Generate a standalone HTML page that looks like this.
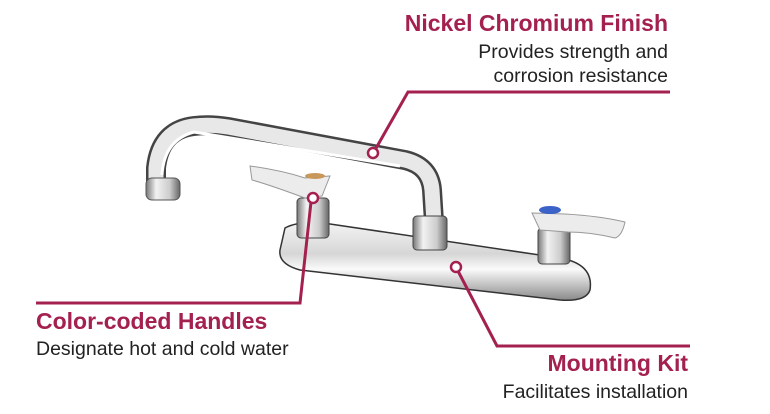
<!DOCTYPE html>
<html><head><meta charset="utf-8"><style>
body{margin:0;width:770px;height:414px;overflow:hidden;background:#fff;position:relative;font-family:"Liberation Sans Narrow","Liberation Sans",sans-serif}
.t{position:absolute;white-space:nowrap}
.h{color:#a3204f;font-weight:bold;font-size:23px}
.s{color:#222;font-size:19.5px}
svg{position:absolute;left:0;top:0}
</style></head><body>
<svg width="770" height="414">
<defs>
<linearGradient id="g" x1="0" y1="0" x2="0" y2="1"><stop offset="0" stop-color="#f4f4f4"/><stop offset=".4" stop-color="#d6d6d6"/><stop offset=".6" stop-color="#fafafa"/><stop offset="1" stop-color="#8a8a8a"/></linearGradient>
<linearGradient id="v" x1="0" y1="0" x2="1" y2="0"><stop offset="0" stop-color="#777"/><stop offset=".3" stop-color="#f2f2f2"/><stop offset=".7" stop-color="#ccc"/><stop offset="1" stop-color="#666"/></linearGradient>
</defs>
<path d="M285 228 Q300 220 330 224 L560 258 Q594 264 590 290 Q586 302 560 300 L300 270 Q278 264 280 250 Z" fill="url(#g)" stroke="#333" stroke-width="1.5"/>
<path d="M156 190 L156 168 Q160 130 194 126 Q210 124 228 127 L405 160 Q430 166 432 190 L434 222" fill="none" stroke="#444" stroke-width="20" stroke-linecap="round"/>
<path d="M156 190 L156 168 Q160 130 194 126 Q210 124 228 127 L405 160 Q430 166 432 190 L434 222" fill="none" stroke="#e8e8e8" stroke-width="15"/>
<path d="M162 175 Q164 140 194 132 L400 166" fill="none" stroke="#fff" stroke-width="3"/>
<rect x="146" y="178" width="34" height="22" rx="6" fill="url(#v)" stroke="#555"/>
<rect x="413" y="216" width="34" height="34" rx="4" fill="url(#v)" stroke="#444"/>
<rect x="297" y="198" width="32" height="40" rx="4" fill="url(#v)" stroke="#444"/>
<path d="M250 166 Q280 170 305 178 L330 176 L322 196 L305 198 Q270 185 252 180 Z" fill="#ececec" stroke="#999"/>
<ellipse cx="315" cy="176" rx="10" ry="3" fill="#c8975a"/>
<rect x="538" y="228" width="32" height="36" rx="4" fill="url(#v)" stroke="#444"/>
<path d="M532 213 L565 214 Q600 216 625 222 Q622 236 615 238 Q590 232 568 232 L540 230 Z" fill="#ececec" stroke="#999"/>
<ellipse cx="550" cy="210" rx="11" ry="4" fill="#3a62c9"/>
<g fill="none" stroke="#a3204f" stroke-width="3">
<polyline points="670,92 408,92 375,150"/>
<polyline points="311,202 300,303 36,303"/>
<polyline points="458,271 497,346 690,346"/>
</g>
<g fill="#fff" stroke="#a3204f" stroke-width="2.5">
<circle cx="373" cy="153" r="5"/><circle cx="313" cy="198" r="5"/><circle cx="456" cy="267" r="5"/>
</g>
</svg>
<div class="t h" style="right:102px;top:10px">Nickel Chromium Finish</div>
<div class="t s" style="right:102px;top:41px">Provides strength and</div>
<div class="t s" style="right:102px;top:65px">corrosion resistance</div>
<div class="t h" style="left:36px;top:308px">Color-coded Handles</div>
<div class="t s" style="left:36px;top:338px">Designate hot and cold water</div>
<div class="t h" style="right:82px;top:350px">Mounting Kit</div>
<div class="t s" style="right:82px;top:381px">Facilitates installation</div>
</body></html>
